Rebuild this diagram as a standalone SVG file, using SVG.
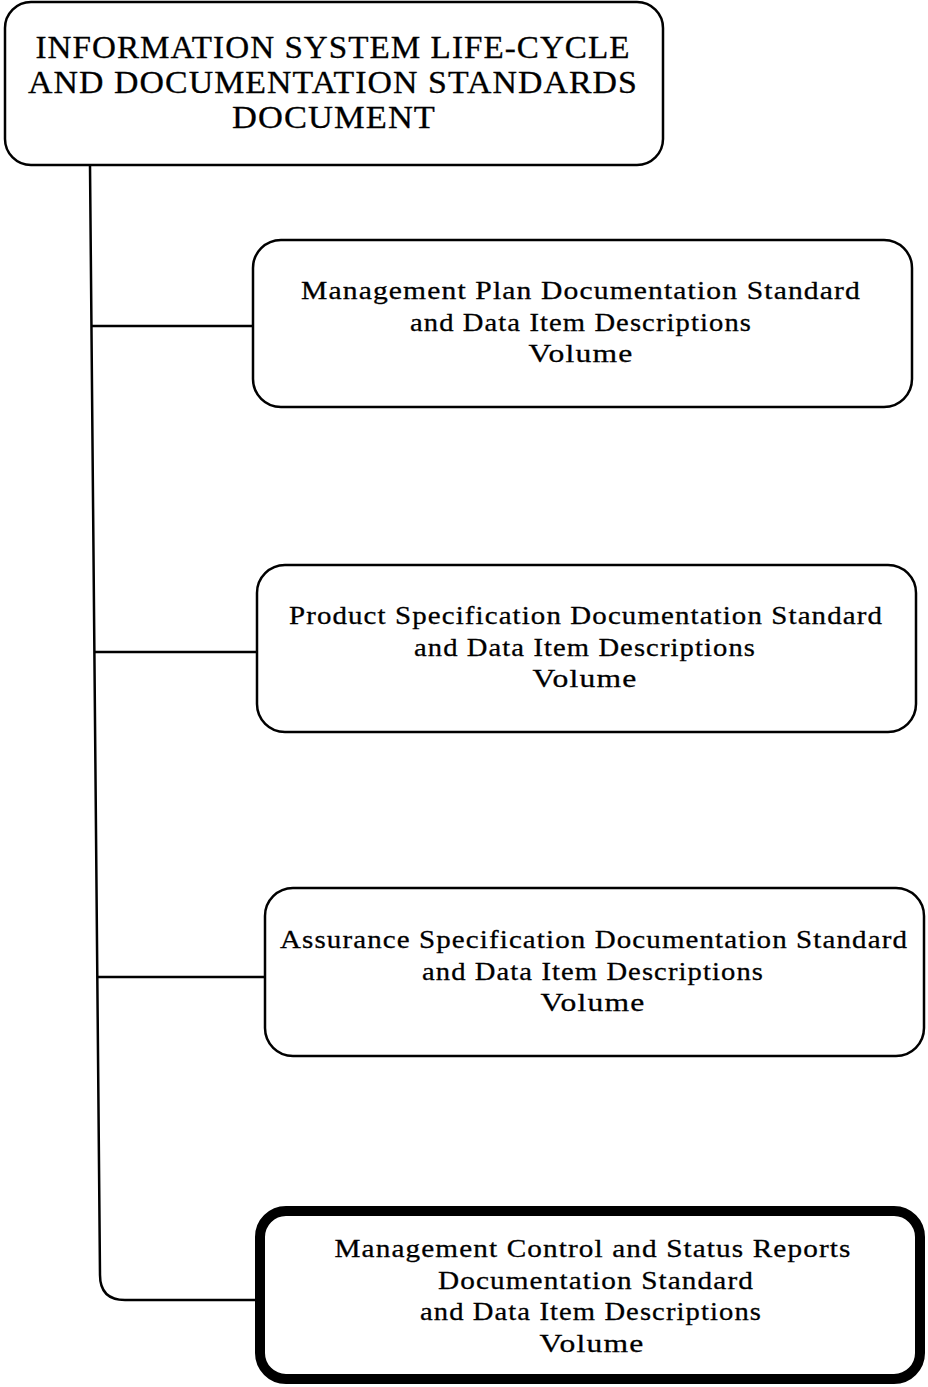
<svg xmlns="http://www.w3.org/2000/svg" width="928" height="1387" viewBox="0 0 928 1387">
<style>
.box{fill:#fff;stroke:#000;stroke-width:2.5}
.thick{fill:#fff;stroke:#000;stroke-width:10}
.t{font-family:"Liberation Serif","Times New Roman",serif;font-size:26px;letter-spacing:1px;fill:#000;stroke:#000;stroke-width:0.3;text-anchor:middle}
.h{font-family:"Liberation Serif","Times New Roman",serif;font-size:32px;letter-spacing:1px;fill:#000;stroke:#000;stroke-width:0.3;text-anchor:middle}
.c{fill:none;stroke:#000;stroke-width:2.5}
</style>
<rect width="928" height="1387" fill="#fff"/>
<g id="connectors">
<path class="c" d="M90,165 L100,1275 Q100,1300 125,1300 L258,1300"/>
<line class="c" x1="91.4" y1="326" x2="253" y2="326"/>
<line class="c" x1="94.4" y1="652" x2="257" y2="652"/>
<line class="c" x1="97.3" y1="977" x2="265" y2="977"/>
</g>
<g id="root">
<rect class="box" x="5" y="2" width="658" height="163" rx="26"/>
<text class="h" x="333" y="58" textLength="595" lengthAdjust="spacingAndGlyphs">INFORMATION SYSTEM LIFE-CYCLE</text>
<text class="h" x="333" y="93" textLength="610" lengthAdjust="spacingAndGlyphs">AND DOCUMENTATION STANDARDS</text>
<text class="h" x="334" y="128" textLength="204" lengthAdjust="spacingAndGlyphs">DOCUMENT</text>
</g>
<g id="management-plan">
<rect class="box" x="253" y="240" width="659" height="167" rx="28"/>
<text class="t" x="581" y="299" textLength="560" lengthAdjust="spacingAndGlyphs">Management Plan Documentation Standard</text>
<text class="t" x="581" y="331" textLength="342" lengthAdjust="spacingAndGlyphs">and Data Item Descriptions</text>
<text class="t" x="581" y="362" textLength="105" lengthAdjust="spacingAndGlyphs">Volume</text>
</g>
<g id="product-spec">
<rect class="box" x="257" y="565" width="659" height="167" rx="28"/>
<text class="t" x="586" y="624" textLength="594" lengthAdjust="spacingAndGlyphs">Product Specification Documentation Standard</text>
<text class="t" x="585" y="656" textLength="342" lengthAdjust="spacingAndGlyphs">and Data Item Descriptions</text>
<text class="t" x="585" y="687" textLength="105" lengthAdjust="spacingAndGlyphs">Volume</text>
</g>
<g id="assurance-spec">
<rect class="box" x="265" y="888" width="659" height="168" rx="28"/>
<text class="t" x="594" y="948" textLength="628" lengthAdjust="spacingAndGlyphs">Assurance Specification Documentation Standard</text>
<text class="t" x="593" y="980" textLength="342" lengthAdjust="spacingAndGlyphs">and Data Item Descriptions</text>
<text class="t" x="593" y="1011" textLength="105" lengthAdjust="spacingAndGlyphs">Volume</text>
</g>
<g id="mgmt-control">
<rect class="thick" x="260" y="1211" width="660" height="168" rx="26"/>
<text class="t" x="593" y="1257" textLength="517" lengthAdjust="spacingAndGlyphs">Management Control and Status Reports</text>
<text class="t" x="596" y="1289" textLength="316" lengthAdjust="spacingAndGlyphs">Documentation Standard</text>
<text class="t" x="591" y="1320" textLength="342" lengthAdjust="spacingAndGlyphs">and Data Item Descriptions</text>
<text class="t" x="592" y="1352" textLength="105" lengthAdjust="spacingAndGlyphs">Volume</text>
</g>
</svg>
